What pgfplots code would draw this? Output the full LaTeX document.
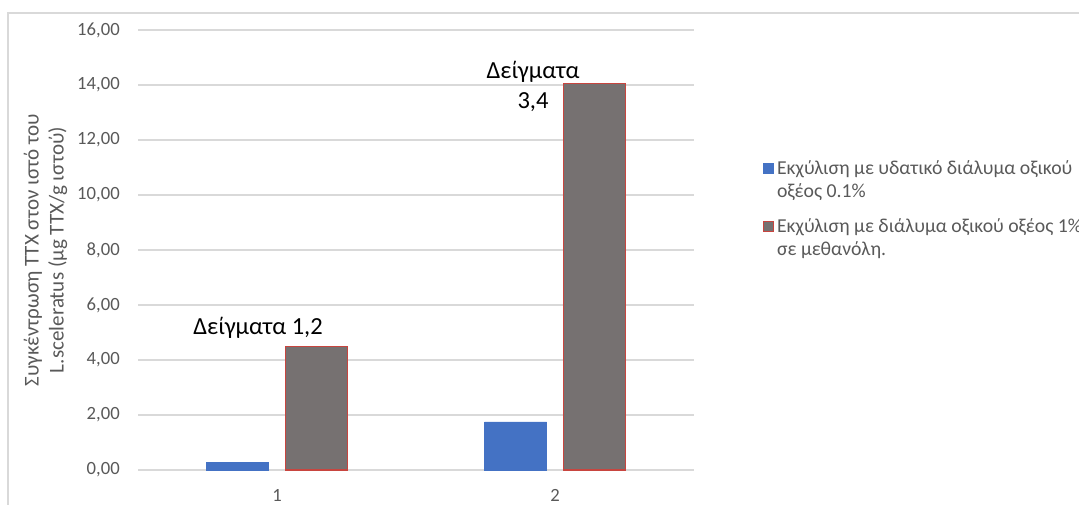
\documentclass[border=0pt]{standalone}
\usepackage{fontspec}
\setmainfont{Carlito}
\usepackage{pgfplots}
\pgfplotsset{compat=1.18}

\definecolor{barblue}{HTML}{4472C4}
\definecolor{bargray}{HTML}{767171}
\definecolor{barred}{HTML}{C8453F}
\definecolor{gridgray}{HTML}{D9D9D9}
\definecolor{labelgray}{HTML}{595959}

\begin{document}
\begin{tikzpicture}
\useasboundingbox (0pt,0pt) rectangle (809.25pt,378pt);
% chart frame
\draw[gridgray, line width=1.5pt] (6pt,-15pt) -- (6pt,368.25pt) -- (820pt,368.25pt);

\begin{axis}[
  at={(103.5pt,25.5pt)}, anchor=south west,
  scale only axis, width=417pt, height=330pt,
  xmin=0.5, xmax=2.5, ymin=0, ymax=16,
  xtick={1,2}, ytick={0,2,...,16},
  ymajorgrids, grid style={gridgray, line width=0.9pt},
  axis line style={draw=none},
  major tick length=0pt,
  ybar, bar width=46.5pt,
  /pgf/number format/assume math mode=true,
  yticklabel={\pgfmathprintnumber[fixed, fixed zerofill, precision=2, use comma]{\tick}},
  yticklabel style={font=\fontsize{14pt}{16pt}\selectfont, text=labelgray,
    anchor=east, inner sep=0pt, xshift=-13.5pt},
  xticklabel style={font=\fontsize{14pt}{16pt}\selectfont, text=labelgray,
    anchor=north, inner sep=0pt, yshift=-14.25pt},
  legend style={at={(axis description cs:1.124,0.71)}, anchor=north west,
    draw=none, fill=none, inner sep=0pt, row sep=10.5pt,
    font=\fontsize{14.8pt}{17.25pt}\selectfont, text=labelgray,
    cells={align=left, anchor=west}},
  legend cell align=left,
  legend image code/.code={\draw[#1, line width=0.9pt] (0pt,5pt) rectangle (7.5pt,12.5pt);},
]
\addplot[fill=barblue, draw=barblue, bar shift=-29.6pt] coordinates {(1,0.28) (2,1.75)};
\addplot[fill=bargray, draw=barred, line width=0.9pt, bar shift=29.6pt] coordinates {(1,4.48) (2,14.06)};
\legend{Εκχύλιση με υδατικό διάλυμα οξικού\\οξέος 0.1\%, Εκχύλιση με διάλυμα οξικού οξέος 1\%\\σε μεθανόλη.}

\node[font=\fontsize{18.4pt}{22pt}\selectfont, text=black] at (axis cs:0.932,5.16) {Δείγματα 1,2};
\node[font=\fontsize{18.4pt}{22.5pt}\selectfont, text=black, align=center] at (axis cs:1.921,13.93) {Δείγματα\\3,4};
\end{axis}

\node[rotate=90, align=center, text=labelgray, font=\fontsize{15.8pt}{18.75pt}\selectfont]
  at (34.1pt,190.5pt) {Συγκέντρωση TTX στον ιστό του\\L.sceleratus (μg TTX/g ιστού)};
\end{tikzpicture}
\end{document}
